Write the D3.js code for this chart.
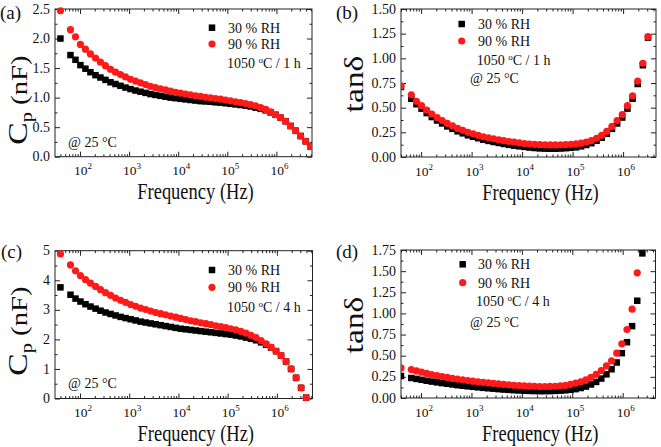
<!DOCTYPE html>
<html><head><meta charset="utf-8">
<script src="https://cdn.jsdelivr.net/npm/d3@7"></script>
<style>body{margin:0;background:#fff}svg{display:block}</style>
</head><body>
<svg id="chart" width="661" height="447"></svg>
<script>
// ---------------- DATA ----------------
const freq = [40, 64, 81, 102, 129, 163, 207, 261, 330, 418, 528, 668, 845, 1068, 1350, 1707, 2159, 2730, 3452, 4364,
  5518, 6978, 8823, 11156, 14106, 17836, 22552, 28516, 36057, 45591, 57647, 72891, 92166, 116540, 147357, 186325,
  235596, 297896, 376670, 476276, 602221, 761469, 962831, 1217440, 1539370, 1946430, 2461130, 3111940, 3934840, 4975340];

// (a) Cp, 1050 °C / 1 h
const cpA30 = [2.00, 1.72, 1.64, 1.55, 1.49, 1.43, 1.38, 1.34, 1.30, 1.26, 1.23, 1.20, 1.17, 1.145, 1.12, 1.10, 1.08, 1.06, 1.045, 1.03,
  1.015, 1.00, 0.99, 0.98, 0.97, 0.96, 0.95, 0.94, 0.935, 0.93, 0.92, 0.915, 0.905, 0.895, 0.885, 0.875, 0.865, 0.85, 0.83, 0.81,
  0.785, 0.75, 0.71, 0.66, 0.60, 0.52, 0.44, 0.35, 0.26, 0.17];
const cpA90 = [2.47, 2.15, 2.03, 1.90, 1.82, 1.74, 1.67, 1.60, 1.54, 1.48, 1.43, 1.39, 1.35, 1.31, 1.28, 1.25, 1.22, 1.19, 1.17, 1.15,
  1.13, 1.11, 1.09, 1.075, 1.06, 1.045, 1.03, 1.02, 1.005, 0.995, 0.985, 0.975, 0.96, 0.945, 0.93, 0.915, 0.90, 0.88, 0.86, 0.83,
  0.80, 0.76, 0.71, 0.66, 0.60, 0.52, 0.44, 0.35, 0.26, 0.17];
// (b) tan δ, 1050 °C / 1 h
const tanB30 = [0.71, 0.59, 0.535, 0.49, 0.445, 0.405, 0.37, 0.34, 0.31, 0.285, 0.26, 0.24, 0.22, 0.205, 0.19, 0.175, 0.163, 0.152, 0.142, 0.132,
  0.123, 0.115, 0.108, 0.102, 0.096, 0.091, 0.087, 0.085, 0.084, 0.084, 0.086, 0.089, 0.093, 0.098, 0.108, 0.122, 0.14, 0.165, 0.195, 0.235,
  0.285, 0.34, 0.40, 0.49, 0.59, 0.74, 0.93, 1.21];
const tanB90 = [0.72, 0.63, 0.565, 0.52, 0.475, 0.435, 0.40, 0.37, 0.34, 0.315, 0.29, 0.27, 0.25, 0.235, 0.22, 0.205, 0.195, 0.185, 0.175, 0.165,
  0.157, 0.15, 0.143, 0.137, 0.132, 0.128, 0.125, 0.123, 0.122, 0.122, 0.123, 0.125, 0.128, 0.133, 0.14, 0.15, 0.165, 0.19, 0.22, 0.26,
  0.31, 0.37, 0.43, 0.52, 0.62, 0.77, 0.95, 1.22];
// (c) Cp, 1050 °C / 4 h
const cpC30 = [3.76, 3.51, 3.38, 3.28, 3.19, 3.11, 3.04, 2.97, 2.91, 2.86, 2.81, 2.76, 2.72, 2.68, 2.64, 2.60, 2.57, 2.54, 2.51, 2.48,
  2.45, 2.42, 2.39, 2.36, 2.34, 2.32, 2.30, 2.28, 2.26, 2.24, 2.22, 2.20, 2.18, 2.16, 2.13, 2.10, 2.06, 2.02, 1.97, 1.90,
  1.82, 1.72, 1.60, 1.45, 1.25, 1.00, 0.70, 0.36, 0.03];
const cpC90 = [4.89, 4.52, 4.32, 4.16, 4.02, 3.90, 3.79, 3.68, 3.58, 3.49, 3.40, 3.32, 3.25, 3.18, 3.12, 3.06, 3.01, 2.96, 2.91, 2.87,
  2.83, 2.79, 2.75, 2.71, 2.67, 2.63, 2.60, 2.56, 2.53, 2.50, 2.46, 2.43, 2.40, 2.36, 2.32, 2.27, 2.21, 2.14, 2.06, 1.96,
  1.85, 1.73, 1.60, 1.45, 1.25, 1.00, 0.70, 0.36, 0.03];
// (d) tan δ, 1050 °C / 4 h
const tanD30 = [0.26, 0.237, 0.226, 0.215, 0.204, 0.194, 0.185, 0.176, 0.168, 0.16, 0.152, 0.145, 0.138, 0.132, 0.126, 0.12, 0.115, 0.11, 0.105, 0.10,
  0.096, 0.092, 0.089, 0.086, 0.084, 0.082, 0.081, 0.081, 0.082, 0.084, 0.087, 0.091, 0.097, 0.105, 0.118, 0.135, 0.16, 0.19, 0.23, 0.28,
  0.34, 0.42, 0.53, 0.66, 0.85, 1.15, 1.71];
const tanD90 = [0.356, 0.336, 0.32, 0.305, 0.29, 0.277, 0.265, 0.254, 0.243, 0.233, 0.224, 0.215, 0.207, 0.199, 0.192, 0.185, 0.178, 0.172, 0.166, 0.161,
  0.156, 0.151, 0.147, 0.143, 0.14, 0.138, 0.136, 0.136, 0.137, 0.139, 0.143, 0.149, 0.162, 0.175, 0.192, 0.215, 0.245, 0.28, 0.325, 0.38,
  0.44, 0.53, 0.64, 0.81, 1.05, 1.48];

const xTickExps = [2, 3, 4, 5, 6];
const cpATicks = [0, 0.5, 1.0, 1.5, 2.0, 2.5];
const tanBTicks = [0, 0.25, 0.5, 0.75, 1.0, 1.25, 1.5];
const cpCTicks = [0, 1, 2, 3, 4, 5];
const tanDTicks = [0, 0.25, 0.5, 0.75, 1.0, 1.25, 1.5, 1.75];
const seriesLabels = ["30 % RH", "90 % RH"];
const conditionLabels = ["1050 °C / 1 h", "1050 °C / 4 h"];
const tempLabel = "@ 25 °C";
const xTitle = "Frequency (Hz)";

// ---------------- DRAW ----------------
const FONT = "'Liberation Serif','Times New Roman',serif";
const RED = "#ff1a1a";
const svg = d3.select("#chart");

const panels = [
  {id: "a", tag: "(a)", s30: cpA30, s90: cpA90, ticks: cpATicks, fmt: d3.format(".1f"), ydom: [0, 2.5], ytitle: "cp",
   x0: 55, x1: 312, y0: 9, y1: 156.7, xdom: [31, 5.3e6], tagPos: [0, 19],
   leg: {mx: 212, my1: 27.7, my2: 44, tx: 228, cond: [227, 68], temp: [68, 147]}, cond: conditionLabels[0], ytPos: [27, 100]},
  {id: "b", tag: "(b)", s30: tanB30, s90: tanB90, ticks: tanBTicks, fmt: d3.format(".2f"), ydom: [0, 1.5], ytitle: "tan",
   x0: 401, x1: 656, y0: 9, y1: 157, xdom: [40, 4.48e6], tagPos: [336, 19],
   leg: {mx: 461.7, my1: 24, my2: 41, tx: 478, cond: [476.7, 65], temp: [470, 83]}, cond: conditionLabels[0], ytPos: [363, 84]},
  {id: "c", tag: "(c)", s30: cpC30, s90: cpC90, ticks: cpCTicks, fmt: d3.format("d"), ydom: [0, 5], ytitle: "cp",
   x0: 55, x1: 312.5, y0: 250.7, y1: 398.5, xdom: [31, 5.3e6], tagPos: [1, 258],
   leg: {mx: 212, my1: 270, my2: 287.3, tx: 228, cond: [227, 311.7], temp: [68, 388]}, cond: conditionLabels[1], ytPos: [27, 331]},
  {id: "d", tag: "(d)", s30: tanD30, s90: tanD90, ticks: tanDTicks, fmt: d3.format(".2f"), ydom: [0, 1.75], ytitle: "tan",
   x0: 401, x1: 655.5, y0: 250, y1: 398, xdom: [40, 4.48e6], tagPos: [336, 258],
   leg: {mx: 462.7, my1: 264.3, my2: 282.7, tx: 478, cond: [476, 306], temp: [470, 326.7]}, cond: conditionLabels[1], ytPos: [363, 325]}
];

function square(g, cx, cy, s) {
  g.append("rect").attr("x", cx - s / 2).attr("y", cy - s / 2).attr("width", s).attr("height", s).attr("fill", "#000");
}
function circle(g, cx, cy, r) {
  g.append("circle").attr("cx", cx).attr("cy", cy).attr("r", r).attr("fill", RED);
}

panels.forEach(p => {
  const g = svg.append("g");
  const x = d3.scaleLog().domain(p.xdom).range([p.x0, p.x1]);
  const y = d3.scaleLinear().domain(p.ydom).range([p.y1, p.y0]);

  // clip (left / right only)
  svg.append("clipPath").attr("id", "clip" + p.id).append("rect")
    .attr("x", p.x0).attr("y", p.y0 - 10).attr("width", p.x1 - p.x0).attr("height", p.y1 - p.y0 + 20);

  // minor / major x ticks
  const majors = xTickExps.map(e => Math.pow(10, e));
  const minors = [];
  for (let e = 1; e <= 6; e++) for (let m = 2; m <= 9; m++) {
    const v = m * Math.pow(10, e);
    if (v >= p.xdom[0] && v <= p.xdom[1]) minors.push(v);
  }
  const yMinors = [];
  for (let i = 0; i < p.ticks.length - 1; i++) yMinors.push((p.ticks[i] + p.ticks[i + 1]) / 2);

  const axisStyle = sel => {
    sel.select(".domain").remove();
    sel.selectAll("line").attr("stroke", "#222").attr("stroke-width", 1);
    sel.selectAll("text").remove();
  };
  g.append("g").attr("transform", `translate(0,${p.y1})`).call(d3.axisBottom(x).tickValues(majors).tickSize(-5)).call(axisStyle);
  g.append("g").attr("transform", `translate(0,${p.y1})`).call(d3.axisBottom(x).tickValues(minors).tickSize(-2.5)).call(axisStyle);
  g.append("g").attr("transform", `translate(0,${p.y0})`).call(d3.axisTop(x).tickValues(majors).tickSize(-5)).call(axisStyle);
  g.append("g").attr("transform", `translate(0,${p.y0})`).call(d3.axisTop(x).tickValues(minors).tickSize(-2.5)).call(axisStyle);
  g.append("g").attr("transform", `translate(${p.x0},0)`).call(d3.axisLeft(y).tickValues(p.ticks).tickSize(-5)).call(axisStyle);
  g.append("g").attr("transform", `translate(${p.x0},0)`).call(d3.axisLeft(y).tickValues(yMinors).tickSize(-2.5)).call(axisStyle);
  g.append("g").attr("transform", `translate(${p.x1},0)`).call(d3.axisRight(y).tickValues(p.ticks).tickSize(-5)).call(axisStyle);
  g.append("g").attr("transform", `translate(${p.x1},0)`).call(d3.axisRight(y).tickValues(yMinors).tickSize(-2.5)).call(axisStyle);

  // frame
  g.append("rect").attr("x", p.x0).attr("y", p.y0).attr("width", p.x1 - p.x0).attr("height", p.y1 - p.y0)
    .attr("fill", "none").attr("stroke", "#222").attr("stroke-width", 1);

  // y tick labels
  p.ticks.forEach(t => {
    g.append("text").attr("x", p.x0 - 5).attr("y", y(t) + 4.6).attr("text-anchor", "end")
      .attr("font-family", FONT).attr("font-size", 14).attr("fill", "#111").text(p.fmt(t));
  });
  // x tick labels
  xTickExps.forEach(e => {
    const t = g.append("text").attr("x", x(Math.pow(10, e)) + 3).attr("y", p.y1 + 18.5).attr("text-anchor", "middle")
      .attr("font-family", FONT).attr("font-size", 13.5).attr("fill", "#111");
    t.append("tspan").text("10");
    t.append("tspan").attr("dy", -6).attr("font-size", 9).text(String(e));
  });

  // data
  const dg = g.append("g").attr("clip-path", `url(#clip${p.id})`);
  p.s30.forEach((v, i) => square(dg, x(freq[i]), y(v), 6.5));
  p.s90.forEach((v, i) => circle(dg, x(freq[i]), y(v), 3.6));

  // x title
  g.append("text").attr("transform", `translate(${(p.x0 + p.x1) / 2 + 12},${p.y1 + 42.5}) scale(1,1.2)`)
    .attr("text-anchor", "middle").attr("font-family", FONT).attr("font-size", 18.5).attr("fill", "#111").text(xTitle);

  // y title
  const yt = g.append("text").attr("transform", `translate(${p.ytPos[0]},${p.ytPos[1]}) rotate(-90) scale(1.2,1)`)
    .attr("text-anchor", "middle").attr("font-family", FONT).attr("fill", "#111");
  if (p.ytitle === "cp") {
    yt.append("tspan").attr("font-size", 28).text("C");
    yt.append("tspan").attr("font-size", 17).attr("dy", 5).text("p");
    yt.append("tspan").attr("font-size", 24).attr("dy", -5).text(" (nF)");
  } else {
    yt.attr("font-size", 28).text("tanδ");
  }

  // panel tag
  g.append("text").attr("x", p.tagPos[0]).attr("y", p.tagPos[1])
    .attr("font-family", FONT).attr("font-size", 19).attr("fill", "#111").text(p.tag);

  // legend
  square(g, p.leg.mx, p.leg.my1, 6.5);
  circle(g, p.leg.mx, p.leg.my2, 3.6);
  [p.leg.my1, p.leg.my2].forEach((my, k) => {
    g.append("text").attr("x", p.leg.tx).attr("y", my + 5).attr("font-family", FONT).attr("font-size", 14)
      .attr("fill", "#111").text(seriesLabels[k]);
  });
  // condition text with superscript o for the degree sign
  const parts = p.cond.split("°");
  const ct = g.append("text").attr("x", p.leg.cond[0]).attr("y", p.leg.cond[1]).attr("font-family", FONT)
    .attr("font-size", 14).attr("fill", "#111");
  ct.append("tspan").text(parts[0]);
  ct.append("tspan").attr("dy", -5).attr("font-size", 9).text("o");
  ct.append("tspan").attr("dy", 5).text(parts[1]);
  g.append("text").attr("x", p.leg.temp[0]).attr("y", p.leg.temp[1]).attr("font-family", FONT)
    .attr("font-size", 14).attr("fill", "#111").text(tempLabel);
});
</script>
</body></html>
